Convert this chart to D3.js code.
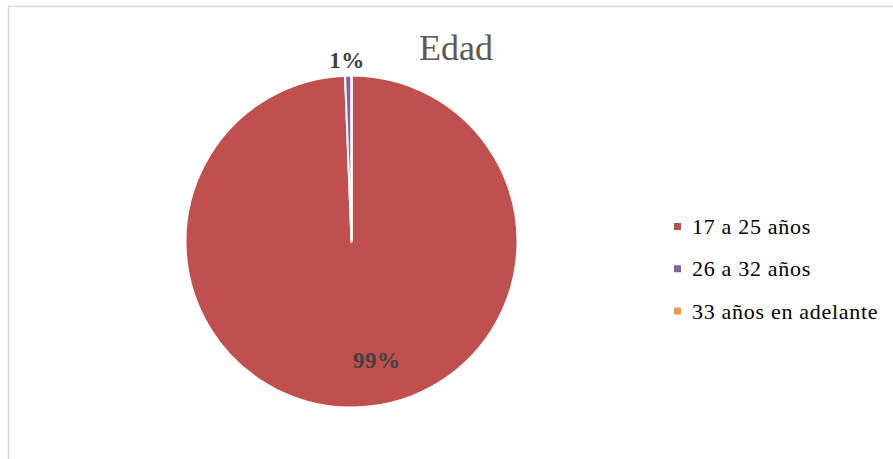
<!DOCTYPE html>
<html><head><meta charset="utf-8">
<script src="https://cdn.jsdelivr.net/npm/d3@7/dist/d3.min.js"></script>
<style>html,body{margin:0;padding:0;background:#fff;}svg{display:block;}</style>
</head><body><svg id="c" width="893" height="459"></svg>
<script>
const title = "Edad";
const categories = ["17 a 25 años", "26 a 32 años", "33 años en adelante"];
const values = [160, 1, 0];
const colors = ["#c0504d", "#8064a2", "#f79646"];

const svg = d3.select("#c");
const W = 893, H = 459;
const font = "'Liberation Serif','Times New Roman',serif";

svg.append("rect").attr("x", 8.5).attr("y", 6.5).attr("width", W).attr("height", H)
  .attr("fill", "#fff").attr("stroke", "#d9d9d9").attr("stroke-width", 1.5);

const cx = 351.5, cy = 241.5, r = 166;
const total = d3.sum(values);
const pie = d3.pie().sort(null).value(d => d)(values);
const arc = d3.arc().innerRadius(0).outerRadius(r);
const g = svg.append("g").attr("transform", `translate(${cx},${cy})`);
g.selectAll("path").data(pie).join("path")
  .attr("d", arc).attr("fill", (d, i) => colors[i])
  .attr("stroke", "#fff").attr("stroke-width", 2).attr("stroke-linejoin", "round");

const fmt = v => Math.round(v / total * 100) + "%";
const inner = d3.arc().innerRadius(r * 0.72).outerRadius(r * 0.72);
const outer = d3.arc().innerRadius(r + 15).outerRadius(r + 15);
pie.forEach((d, i) => {
  if (d.value === 0) return;
  const big = (d.endAngle - d.startAngle) > 0.3;
  const p = big ? inner.centroid(d) : outer.centroid(d);
  g.append("text")
    .attr("x", p[0] + (big ? 23 : -1)).attr("y", p[1])
    .attr("text-anchor", "middle").attr("dominant-baseline", "central")
    .attr("font-family", font).attr("font-weight", "bold").attr("font-size", 23)
    .attr("letter-spacing", 0.5)
    .attr("fill", "#404040").text(fmt(d.value));
});

svg.append("text").attr("x", 456).attr("y", 60).attr("text-anchor", "middle")
  .attr("font-family", font).attr("font-size", 36).attr("fill", "#595959").text(title);

const lg = svg.append("g");
const ly = d3.scalePoint().domain(categories).range([226.5, 311]);
categories.forEach((c, i) => {
  lg.append("rect").attr("x", 674).attr("y", ly(c) - 3.5).attr("width", 7).attr("height", 7).attr("fill", colors[i]);
  lg.append("text").attr("x", 692).attr("y", ly(c)).attr("dominant-baseline", "central")
    .attr("font-family", font).attr("font-size", 22).attr("letter-spacing", 0.7)
    .attr("fill", "#000").text(c);
});
</script></body></html>
